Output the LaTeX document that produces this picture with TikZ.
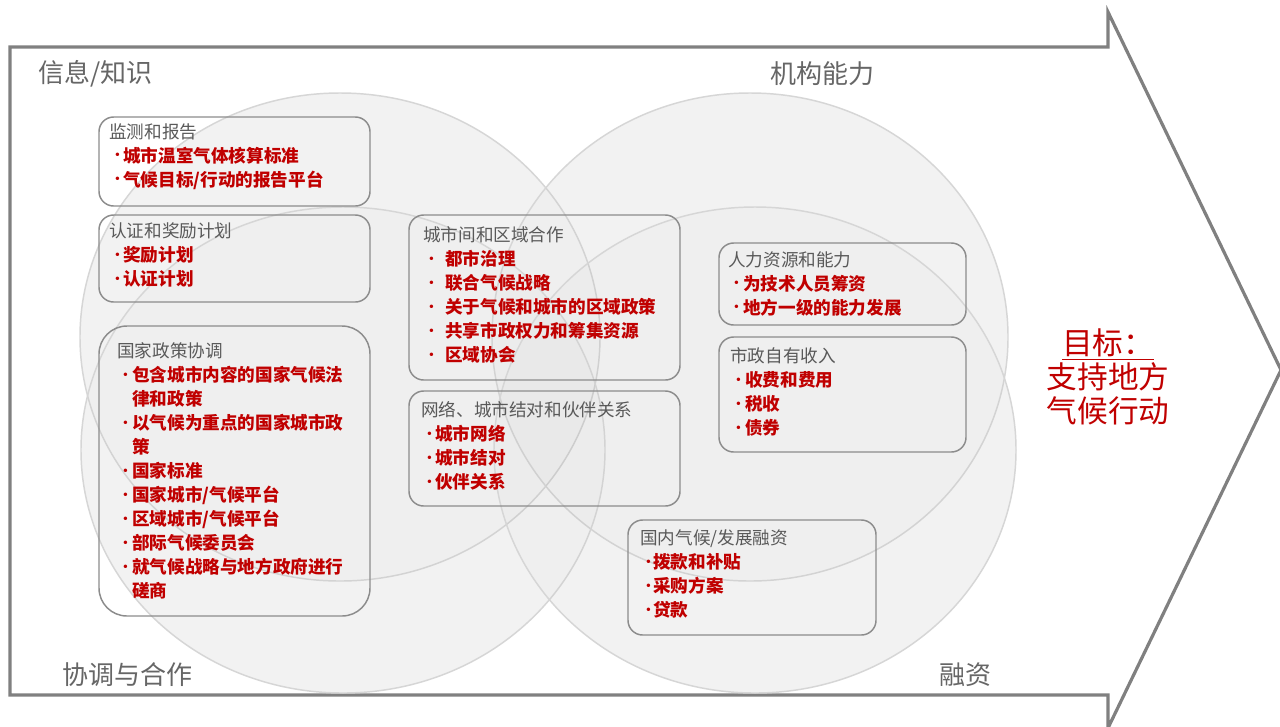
\documentclass[tikz,border=0pt]{standalone}
\usepackage{fontspec}
\setmainfont{Noto Sans CJK SC}
\usetikzlibrary{fit,calc}
\definecolor{rd}{HTML}{C00000}
\definecolor{tg}{HTML}{595959}
\definecolor{lg}{HTML}{666666}
\definecolor{ag}{HTML}{808080}
\definecolor{bx}{HTML}{8C8C8C}
\definecolor{cg}{HTML}{D6D6D6}
\definecolor{cf}{HTML}{F5F5F5}
\newcommand{\bulmark}{\raisebox{0.22ex}{\scalebox{0.7}{•}}}
\newcommand{\bi}[2]{\makebox[#1][l]{\hspace{1.5pt}\bulmark}#2}
\newcommand{\ttl}[1]{{\mdseries\color{tg}#1}}
\begin{document}
\begin{tikzpicture}[x=0.75pt,y=-0.75pt,
  cbase/.style={fill=cf},
  circ/.style={draw=cg, line width=1.1pt, fill=black, fill opacity=0.012},
  outline/.style={draw=ag, line width=2.4pt, line join=miter, fill=white},
  box/.style={draw=bx, line width=1.1pt, rounded corners=11pt, inner sep=0pt},
  bigbox/.style={box, rounded corners=21pt},
  txt/.style={anchor=north west, align=left, inner sep=0pt, text=rd,
    font=\fontsize{13.2pt}{18pt}\selectfont\bfseries},
  lab/.style={anchor=west, inner sep=0pt, text=lg, font=\fontsize{19.5pt}{22pt}\selectfont},
  goal/.style={align=center, inner sep=0pt, text=rd, font=\fontsize{23pt}{25.5pt}\selectfont}]
\useasboundingbox (0,0) rectangle (1280,726);
% big arrow
\draw[outline] (10,47) -- (1108,47) -- (1108,12) -- (1281,370) -- (1108,728)
  -- (1108,695) -- (10,695) -- cycle;
% four overlapping circles: light base, then subtle overlay and outlines
\fill[cbase] (340,337) ellipse [x radius=260, y radius=244];
\fill[cbase] (750,337) ellipse [x radius=258, y radius=244];
\fill[cbase] (343,450) ellipse [x radius=262, y radius=243];
\fill[cbase] (755,450) ellipse [x radius=261, y radius=243];
\draw[circ] (340,337) ellipse [x radius=260, y radius=244];
\draw[circ] (750,337) ellipse [x radius=258, y radius=244];
\draw[circ] (343,450) ellipse [x radius=262, y radius=243];
\draw[circ] (755,450) ellipse [x radius=261, y radius=243];
% corner labels
\node[lab] (lInfo) at (38,74) {信息/知识};
\node[lab] (lInst) at (770,74) {机构能力};
\node[lab] (lCoop) at (62,675) {协调与合作};
\node[lab] (lFin)  at (939,675) {融资};
% goal
\node[goal] (goal) at (1108,377) {\underline{目标：}\\支持地方\\气候行动};
% boxes
\node[box, fit={(99,117) (370,206)}] (b1) {};
\node[box, fit={(99,215) (370,302)}] (b2) {};
\node[bigbox, fit={(99,326) (370,616)}] (b3) {};
\node[box, fit={(409,215) (680,380)}] (b4) {};
\node[box, fit={(409,391) (680,506)}] (b5) {};
\node[box, fit={(719,243) (966,325)}] (b6) {};
\node[box, fit={(719,337) (966,452)}] (b7) {};
\node[box, fit={(628,520) (876,635)}] (b8) {};
% box texts
\node[txt] (t1) at (109,123) {\ttl{监测和报告}\\
  \bi{10.5pt}{城市温室气体核算标准}\\
  \bi{10.5pt}{气候目标/行动的报告平台}};
\node[txt] (t2) at (109,222) {\ttl{认证和奖励计划}\\
  \bi{10.5pt}{奖励计划}\\
  \bi{10.5pt}{认证计划}};
\node[txt] (t3) at (117,342) {\ttl{国家政策协调}\\
  \bi{11.25pt}{包含城市内容的国家气候法}\\
  \hspace*{11.25pt}律和政策\\
  \bi{11.25pt}{以气候为重点的国家城市政}\\
  \hspace*{11.25pt}策\\
  \bi{11.25pt}{国家标准}\\
  \bi{11.25pt}{国家城市/气候平台}\\
  \bi{11.25pt}{区域城市/气候平台}\\
  \bi{11.25pt}{部际气候委员会}\\
  \bi{11.25pt}{就气候战略与地方政府进行}\\
  \hspace*{11.25pt}磋商};
\node[txt] (t4) at (423,226) {\ttl{城市间和区域合作}\\
  \bi{16.5pt}{都市治理}\\
  \bi{16.5pt}{联合气候战略}\\
  \bi{16.5pt}{关于气候和城市的区域政策}\\
  \bi{16.5pt}{共享市政权力和筹集资源}\\
  \bi{16.5pt}{区域协会}};
\node[txt] (t5) at (421,401) {\ttl{网络、城市结对和伙伴关系}\\
  \bi{10.5pt}{城市网络}\\
  \bi{10.5pt}{城市结对}\\
  \bi{10.5pt}{伙伴关系}};
\node[txt] (t6) at (728,251) {\ttl{人力资源和能力}\\
  \bi{11.25pt}{为技术人员筹资}\\
  \bi{11.25pt}{地方一级的能力发展}};
\node[txt] (t7) at (730,347) {\ttl{市政自有收入}\\
  \bi{11.25pt}{收费和费用}\\
  \bi{11.25pt}{税收}\\
  \bi{11.25pt}{债券}};
\node[txt] (t8) at (640,529) {\ttl{国内气候/发展融资}\\
  \bi{9.75pt}{拨款和补贴}\\
  \bi{9.75pt}{采购方案}\\
  \bi{9.75pt}{贷款}};
\end{tikzpicture}
\end{document}
